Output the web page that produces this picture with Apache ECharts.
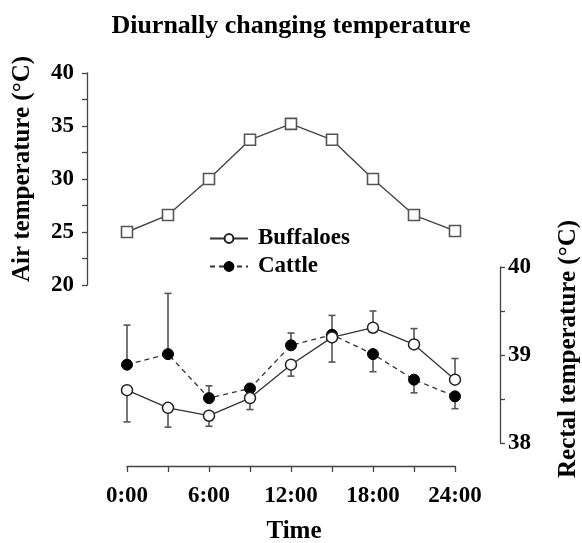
<!DOCTYPE html>
<html>
<head>
<meta charset="utf-8">
<script src="https://cdn.jsdelivr.net/npm/echarts@6/dist/echarts.min.js"></script>
<style>
html,body{margin:0;padding:0;background:#fff;}
#chart{width:582px;height:543px;}
</style>
</head>
<body>
<div id="chart"></div>
<script>
// ---- data ----
var hours = [0, 3, 6, 9, 12, 15, 18, 21, 24];
var airTemp = [25.0, 26.6, 30.0, 33.7, 35.2, 33.7, 30.0, 26.6, 25.1];
var buffaloes = [38.60, 38.40, 38.31, 38.51, 38.89, 39.20, 39.31, 39.12, 38.72];
var buffaloErrEnd = [38.24, 38.18, 38.19, 38.38, 38.76, 38.92, 39.50, 39.30, 38.96];
var cattle = [38.89, 39.01, 38.51, 38.62, 39.11, 39.23, 39.01, 38.72, 38.53];
var cattleErrEnd = [39.34, 39.70, 38.65, null, 39.25, 39.45, 38.81, 38.57, 38.39];
var titleText = 'Diurnally changing temperature';
var leftTitle = 'Air temperature (\u00B0C)';
var rightTitle = 'Rectal temperature (\u00B0C)';
var xTitle = 'Time';

var FONT = "'Times New Roman','Liberation Serif',serif";

function pairs(xs, ys) { return xs.map(function (x, i) { return [x, ys[i]]; }); }
function errData(xs, ys, ends) {
  var out = [];
  xs.forEach(function (x, i) { if (ends[i] != null) out.push([x, ys[i], ends[i]]); });
  return out;
}
function renderErr(params, api) {
  var x = api.value(0), v = api.value(1), e = api.value(2);
  var p1 = api.coord([x, v]);
  var p2 = api.coord([x, e]);
  var st = { stroke: '#555', lineWidth: 1.6 };
  return {
    type: 'group',
    children: [
      { type: 'line', shape: { x1: p1[0], y1: p1[1], x2: p2[0], y2: p2[1] }, style: st },
      { type: 'line', shape: { x1: p2[0] - 3.5, y1: p2[1], x2: p2[0] + 3.5, y2: p2[1] }, style: st }
    ]
  };
}

var labelStyle = { fontFamily: FONT, fontWeight: 'bold', fontSize: 23, color: '#000' };
var lineCol = '#444';

var chart = echarts.init(document.getElementById('chart'), null, { renderer: 'canvas' });
chart.setOption({
  animation: false,
  backgroundColor: '#fff',
  title: {
    text: titleText, left: 'center', top: 8,
    textStyle: { fontFamily: FONT, fontWeight: 'bold', fontSize: 26, color: '#000' }
  },
  legend: {
    data: ['Buffaloes', 'Cattle'],
    orient: 'vertical', left: 204, top: 222,
    itemWidth: 38, itemHeight: 11, itemGap: 5,
    textStyle: { fontFamily: FONT, fontWeight: 'bold', fontSize: 23, color: '#000', padding: [0, 0, 0, 5] }
  },
  grid: [
    { left: 127, top: 73, width: 328, height: 212 },
    { left: 127, top: 267, width: 328, height: 176 }
  ],
  xAxis: [
    { gridIndex: 0, type: 'value', min: 0, max: 24, show: false },
    {
      gridIndex: 1, type: 'value', min: 0, max: 24, interval: 6, offset: 23,
      axisLine: { show: true, onZero: false, lineStyle: { color: lineCol, width: 1.3 } },
      axisTick: { show: true, length: 6, lineStyle: { color: lineCol, width: 1.3 } },
      minorTick: { show: true, splitNumber: 2, length: 6, lineStyle: { color: lineCol, width: 1.3 } },
      splitLine: { show: false },
      axisLabel: Object.assign({ margin: 19, formatter: function (v) { return v + ':00'; } }, labelStyle)
    }
  ],
  yAxis: [
    {
      gridIndex: 0, type: 'value', min: 20, max: 40, interval: 5, offset: 40,
      axisLine: { show: true, onZero: false, lineStyle: { color: lineCol, width: 1.3 } },
      axisTick: { show: true, length: 5, lineStyle: { color: lineCol, width: 1.3 } },
      minorTick: { show: true, splitNumber: 2, length: 5, lineStyle: { color: lineCol, width: 1.3 } },
      splitLine: { show: false },
      axisLabel: Object.assign({ margin: 13 }, labelStyle)
    },
    {
      gridIndex: 1, type: 'value', position: 'right', min: 38, max: 40, interval: 1, offset: 45,
      axisLine: { show: true, onZero: false, lineStyle: { color: lineCol, width: 1.3 } },
      axisTick: { show: true, length: 5, lineStyle: { color: lineCol, width: 1.3 } },
      minorTick: { show: true, splitNumber: 2, length: 5, lineStyle: { color: lineCol, width: 1.3 } },
      splitLine: { show: false },
      axisLabel: Object.assign({ margin: 8 }, labelStyle)
    }
  ],
  graphic: [
    { type: 'text', x: 23, y: 169, rotation: Math.PI / 2,
      style: { text: leftTitle, fontFamily: FONT, fontWeight: 'bold', fontSize: 25, fill: '#000', textAlign: 'center', textVerticalAlign: 'middle' } },
    { type: 'text', x: 569, y: 349, rotation: Math.PI / 2,
      style: { text: rightTitle, fontFamily: FONT, fontWeight: 'bold', fontSize: 25, fill: '#000', textAlign: 'center', textVerticalAlign: 'middle' } },
    { type: 'text', x: 294, y: 532,
      style: { text: xTitle, fontFamily: FONT, fontWeight: 'bold', fontSize: 25, fill: '#000', textAlign: 'center', textVerticalAlign: 'middle' } }
  ],
  series: [
    {
      name: 'Air', type: 'line', xAxisIndex: 0, yAxisIndex: 0,
      data: pairs(hours, airTemp),
      symbol: 'rect', symbolSize: 11,
      lineStyle: { color: '#444', width: 1.4 },
      itemStyle: { color: '#fff', borderColor: '#555', borderWidth: 1.6 },
      z: 3
    },
    {
      name: 'CattleErr', type: 'custom', xAxisIndex: 1, yAxisIndex: 1,
      data: errData(hours, cattle, cattleErrEnd), renderItem: renderErr, z: 1
    },
    {
      name: 'BuffaloErr', type: 'custom', xAxisIndex: 1, yAxisIndex: 1,
      data: errData(hours, buffaloes, buffaloErrEnd), renderItem: renderErr, z: 1
    },
    {
      name: 'Cattle', type: 'line', xAxisIndex: 1, yAxisIndex: 1,
      data: pairs(hours, cattle),
      symbol: 'circle', symbolSize: 11,
      lineStyle: { color: '#333', width: 1.3, type: [5, 4] },
      itemStyle: { color: '#000', borderColor: '#000', borderWidth: 1 },
      z: 3
    },
    {
      name: 'Buffaloes', type: 'line', xAxisIndex: 1, yAxisIndex: 1,
      data: pairs(hours, buffaloes),
      symbol: 'circle', symbolSize: 11,
      lineStyle: { color: '#333', width: 1.3 },
      itemStyle: { color: '#fff', borderColor: '#222', borderWidth: 1.5 },
      z: 4
    }
  ]
});
</script>
</body>
</html>
